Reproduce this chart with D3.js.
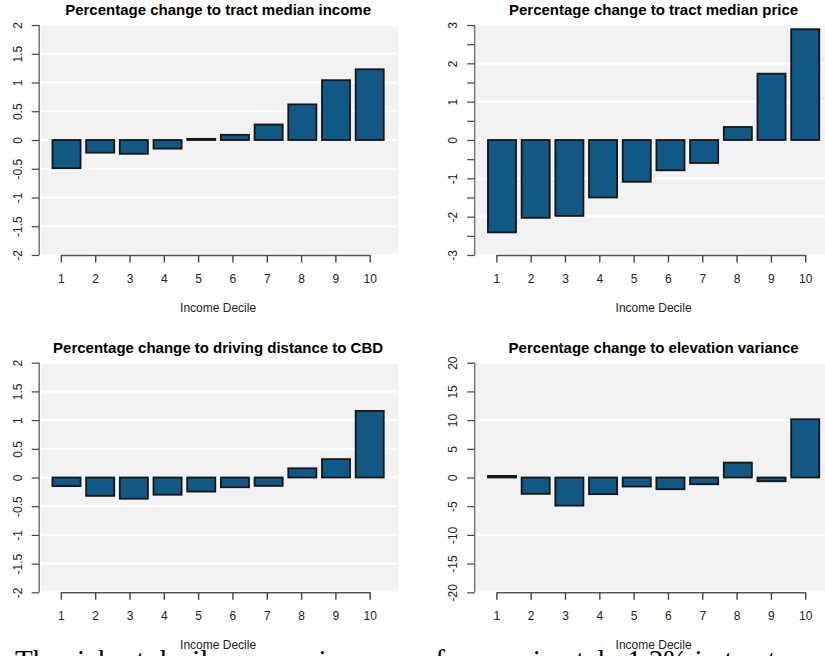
<!DOCTYPE html>
<html>
<head>
<meta charset="utf-8">
<script src="https://cdn.jsdelivr.net/npm/d3@7"></script>
<style>
  html, body { margin: 0; padding: 0; background: #fff; overflow: hidden; }
  svg { display: block; }
</style>
</head>
<body>
<svg id="chart" width="825" height="656"></svg>
<script>
// Income deciles on the x axis
const deciles = [1, 2, 3, 4, 5, 6, 7, 8, 9, 10];

// Percentage change by decile for each outcome
const incomeChange    = [-0.49, -0.22, -0.24, -0.15, 0.02, 0.09, 0.27, 0.62, 1.04, 1.23];
const priceChange     = [-2.41, -2.03, -1.98, -1.50, -1.09, -0.79, -0.60, 0.34, 1.73, 2.89];
const distanceChange  = [-0.15, -0.32, -0.37, -0.30, -0.245, -0.17, -0.146, 0.16, 0.32, 1.16];
const elevationChange = [0.28, -2.85, -4.9, -2.9, -1.57, -2.04, -1.17, 2.6, -0.65, 10.15];

// Panel titles
const titles = [
  "Percentage change to tract median income",
  "Percentage change to tract median price",
  "Percentage change to driving distance to CBD",
  "Percentage change to elevation variance"
];

// Y axis tick values, labelled ticks and white reference lines
const incomeTicks    = [-2, -1.5, -1, -0.5, 0, 0.5, 1, 1.5, 2];
const incomeGrid     = [-1.5, -1, -0.5, 0, 0.5, 1, 1.5];

const priceTicks     = [-3, -2.5, -2, -1.5, -1, -0.5, 0, 0.5, 1, 1.5, 2, 2.5, 3];
const priceLabelled  = [-3, -2, -1, 0, 1, 2, 3];
const priceGrid      = [-2, -1, 0, 1, 2];

const elevTicks      = [-20, -15, -10, -5, 0, 5, 10, 15, 20];
const elevGrid       = [-10, 0, 10];

const xTitle = "Income Decile";
const caption = "The richest decile sees an increase of approximately 1.2% in tract median income";

const fmt = v => String(v);

const svg = d3.select("#chart");

// Layout of the 2x2 grid
const plotW = 357.8;            // plotting region width (px)
const unitsMin = -0.272, unitsMax = 12.472;   // bar-position units across the region
const panels = [
  { left: 39.2,  top: 25,    bottom: 255,   values: incomeChange,    domain: [-2, 2],   ticks: incomeTicks, labels: incomeTicks,   grid: incomeGrid, title: titles[0] },
  { left: 474.7, top: 25,    bottom: 255,   values: priceChange,     domain: [-3, 3],   ticks: priceTicks,  labels: priceLabelled, grid: priceGrid,  title: titles[1] },
  { left: 39.2,  top: 362.7, bottom: 592.3, values: distanceChange,  domain: [-2, 2],   ticks: incomeTicks, labels: incomeTicks,   grid: incomeGrid, title: titles[2] },
  { left: 474.7, top: 362.7, bottom: 592.3, values: elevationChange, domain: [-20, 20], ticks: elevTicks,   labels: elevTicks,     grid: elevGrid,   title: titles[3] }
];

// Caption text running along the bottom edge (drawn first, under the axis labels)
svg.append("text")
  .attr("x", 15)
  .attr("y", 670)
  .attr("font-family", "'Liberation Serif', 'Times New Roman', serif")
  .attr("font-size", 29)
  .attr("fill", "#000")
  .text(caption);

const sans = "'Liberation Sans', Arial, Helvetica, sans-serif";

panels.forEach(p => {
  const g = svg.append("g");

  // x in bar-position units: bars of width 1 separated by 0.2
  const xu = d3.scaleLinear().domain([unitsMin, unitsMax]).range([p.left, p.left + plotW]);
  const barCenter = d3.scaleLinear().domain([1, 10]).range([0.7, 11.5]);
  const tickPos = d3.scaleLinear().domain([1, 10]).range([0.5, 11.5]);
  const y = d3.scaleLinear().domain(p.domain).range([p.bottom, p.top]);

  // background
  g.append("rect")
    .attr("x", p.left + 1.5)
    .attr("y", p.top + 1)
    .attr("width", plotW)
    .attr("height", p.bottom - p.top - 2)
    .attr("fill", "#f2f2f2");

  // white reference lines
  g.selectAll("line.grid")
    .data(p.grid)
    .join("line")
    .attr("class", "grid")
    .attr("x1", p.left + 1.5)
    .attr("x2", p.left + plotW)
    .attr("y1", d => y(d))
    .attr("y2", d => y(d))
    .attr("stroke", "#fff")
    .attr("stroke-width", 2.2);

  // bars
  g.selectAll("rect.bar")
    .data(deciles.map((d, i) => ({ d, v: p.values[i] })))
    .join("rect")
    .attr("class", "bar")
    .attr("x", d => xu(barCenter(d.d) - 0.5))
    .attr("width", d => xu(1) - xu(0))
    .attr("y", d => y(Math.max(0, d.v)))
    .attr("height", d => Math.abs(y(d.v) - y(0)))
    .attr("fill", "#105886")
    .attr("stroke", "#151515")
    .attr("stroke-width", 1.8);

  // y axis
  const yAxis = d3.axisLeft(y)
    .tickValues(p.ticks)
    .tickSize(7.5)
    .tickPadding(0)
    .tickFormat(d => p.labels.includes(d) ? fmt(d) : "");
  const ya = g.append("g")
    .attr("transform", `translate(${p.left},0)`)
    .call(yAxis);
  ya.select(".domain").attr("stroke", "#7a7a7a").attr("stroke-width", 1.6)
    .attr("d", `M0,${p.top}V${p.bottom}`);
  ya.selectAll(".tick line").attr("stroke", "#444").attr("stroke-width", 1.2);
  ya.selectAll(".tick text")
    .attr("font-family", sans)
    .attr("font-size", 12)
    .attr("fill", "#222")
    .attr("text-anchor", "middle")
    .attr("dy", null)
    .attr("x", null)
    .attr("transform", "translate(-21.7,0) rotate(-90)")
    .attr("dominant-baseline", "central");

  // x axis
  const xs = d => xu(tickPos(d));
  const xScaleTicks = d3.scaleLinear().domain([1, 10]).range([xs(1), xs(10)]);
  const xAxis = d3.axisBottom(xScaleTicks)
    .tickValues(deciles)
    .tickSize(7.5)
    .tickSizeOuter(0)
    .tickPadding(0)
    .tickFormat(fmt);
  const xa = g.append("g")
    .attr("transform", `translate(0,${p.bottom})`)
    .call(xAxis);
  xa.select(".domain").attr("stroke", "#555").attr("stroke-width", 1.4);
  xa.selectAll(".tick line").attr("stroke", "#444").attr("stroke-width", 1.4);
  xa.selectAll(".tick text")
    .attr("font-family", sans)
    .attr("font-size", 12)
    .attr("fill", "#222")
    .attr("dy", null)
    .attr("y", 27.5);

  const cx = p.left + plotW / 2;

  // title
  g.append("text")
    .attr("x", cx)
    .attr("y", p.top - 9.6)
    .attr("text-anchor", "middle")
    .attr("font-family", sans)
    .attr("font-weight", "bold")
    .attr("font-size", 15)
    .attr("fill", "#000")
    .text(p.title);

  // x axis title
  g.append("text")
    .attr("x", cx)
    .attr("y", p.bottom + 57)
    .attr("text-anchor", "middle")
    .attr("font-family", sans)
    .attr("font-size", 12)
    .attr("fill", "#222")
    .text(xTitle);
});
</script>
</body>
</html>
